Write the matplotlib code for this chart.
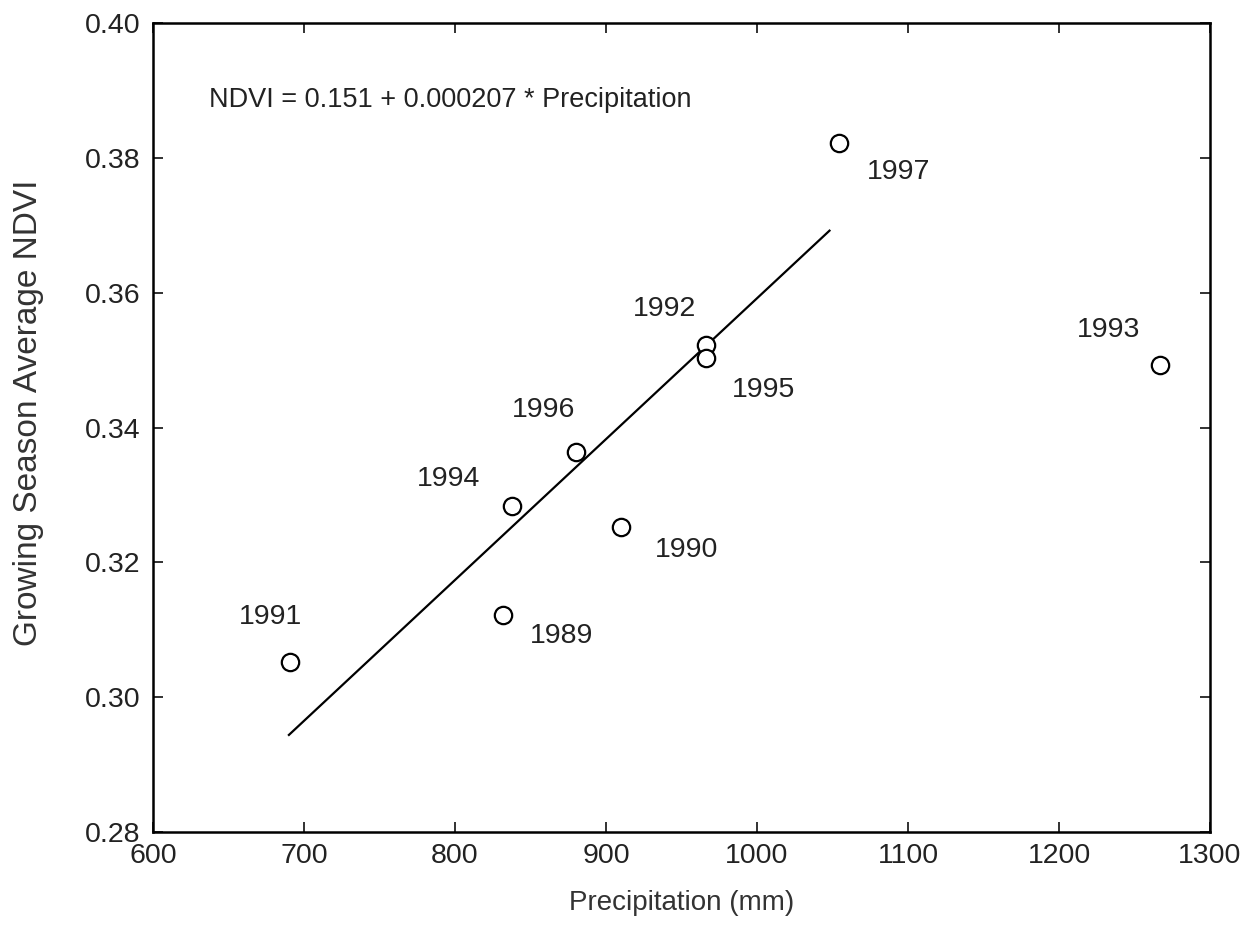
import matplotlib
matplotlib.use('Agg')
import matplotlib.pyplot as plt

plt.rcParams['font.family'] = ['Liberation Sans', 'DejaVu Sans']

# Daten
jahre = ['1989', '1990', '1991', '1992', '1993', '1994', '1995', '1996', '1997']
niederschlag = [832, 910, 691, 966, 1267, 838, 966, 880, 1054]
ndvi = [0.3122, 0.3252, 0.3052, 0.3522, 0.3493, 0.3283, 0.3503, 0.3364, 0.3822]

linie_x = [690, 1048]
linie_y = [0.2944, 0.3692]

# Versatz der Jahreszahlen in Pixeln (dx, dy nach unten)
versatz = {
    '1989': (58, 21), '1990': (65, 23), '1991': (-20, -45),
    '1992': (-41, -36), '1993': (-52, -35), '1994': (-64, -27),
    '1995': (58, 32), '1996': (-32, -42), '1997': (60, 29),
}

fig = plt.figure(figsize=(12.49, 9.43), dpi=100)
ax = fig.add_axes([0.1225, 0.1177, 0.9688 - 0.1225, 0.9756 - 0.1177])

ax.plot(linie_x, linie_y, color='black', lw=1.6)
ax.plot(niederschlag, ndvi, 'o', mfc='white', mec='black', ms=12.5, mew=1.6)

for j, x, y in zip(jahre, niederschlag, ndvi):
    dx, dy = versatz[j]
    ax.annotate(j, (x, y), xytext=(dx * 0.72, -dy * 0.72), textcoords='offset points',
                ha='center', va='center', fontsize=20.5, color='#222222')

ax.text(0.053, 0.905, 'NDVI = 0.151 + 0.000207 * Precipitation', transform=ax.transAxes,
        fontsize=19.5, color='#222222', va='center')

ax.set_xlim(600, 1300)
ax.set_ylim(0.28, 0.40)
ax.set_xticks(range(600, 1301, 100))
ax.set_yticks([0.28, 0.30, 0.32, 0.34, 0.36, 0.38, 0.40])
ax.set_yticklabels(['0.28', '0.30', '0.32', '0.34', '0.36', '0.38', '0.40'])
ax.tick_params(direction='in', length=7.5, width=1.3, top=True, right=True,
               labelsize=20.5, colors='#222222')
ax.tick_params(axis='x', pad=8)
ax.tick_params(axis='y', pad=9)
for s in ax.spines.values():
    s.set_linewidth(1.8)

ax.set_xlabel('Precipitation (mm)', fontsize=20, color='#333333', labelpad=15)
ax.set_ylabel('Growing Season Average NDVI', fontsize=24, color='#333333')
ax.yaxis.label.set_verticalalignment('center')
ax.yaxis.set_label_coords(-0.118, 0.518)

fig.savefig('out.png', dpi=100)
